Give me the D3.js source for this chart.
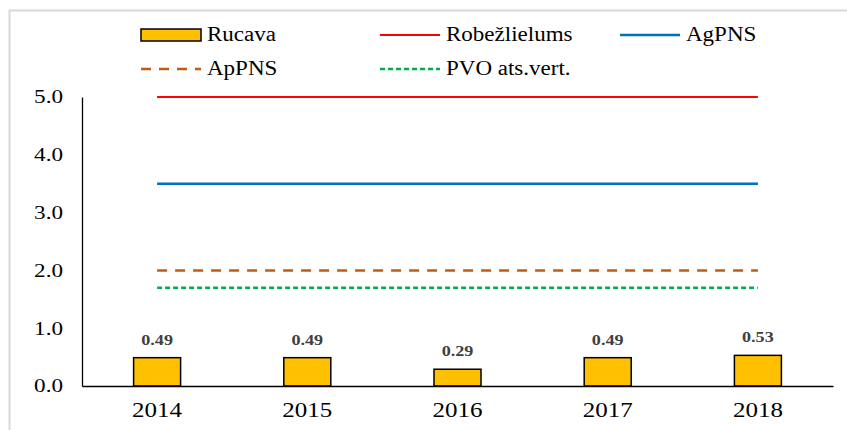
<!DOCTYPE html>
<html>
<head>
<meta charset="utf-8">
<script src="https://cdn.jsdelivr.net/npm/d3@7"></script>
<style>
  html, body { margin: 0; padding: 0; background: #fff; }
  svg { display: block; }
  svg text { font-family: "Liberation Serif", "Times New Roman", Times, serif; }
</style>
</head>
<body>
<svg id="chart" width="847" height="430"></svg>
<script>
// Yearly values for Rucava and the reference limit levels
const years = ["2014", "2015", "2016", "2017", "2018"];
const rucava = [0.49, 0.49, 0.29, 0.49, 0.53];
const robezlielums = [5.0, 5.0, 5.0, 5.0, 5.0];
const agpns = [3.5, 3.5, 3.5, 3.5, 3.5];
const appns = [2.0, 2.0, 2.0, 2.0, 2.0];
const pvo = [1.7, 1.7, 1.7, 1.7, 1.7];
const yTicks = [0, 1, 2, 3, 4, 5];

const svg = d3.select("#chart");

// stretch a label horizontally, keeping its anchor in place
function widen(sel, k) {
  sel.each(function () {
    const len = this.getComputedTextLength();
    d3.select(this)
      .attr("textLength", len * k)
      .attr("lengthAdjust", "spacingAndGlyphs");
  });
}

// outer frame
svg.append("rect")
  .attr("x", 9.5).attr("y", 10.5)
  .attr("width", 860).attr("height", 440)
  .attr("fill", "#fff")
  .attr("stroke", "#d9d9d9").attr("stroke-width", 2);

const plot = { left: 82, right: 833, top: 97, bottom: 386 };

const x = d3.scaleBand().domain(years).range([plot.left, plot.right]).paddingInner(0).paddingOuter(0);
const y = d3.scaleLinear().domain([0, 5]).range([plot.bottom, plot.top]);

const barW = 47;

// y axis with tick labels
const yAxis = d3.axisLeft(y).tickValues(yTicks).tickFormat(d3.format(".1f")).tickSize(0).tickPadding(19);
const gy = svg.append("g").attr("transform", `translate(${plot.left},0)`).call(yAxis);
gy.attr("font-family", null);
gy.select(".domain").attr("stroke", "#000").attr("stroke-width", 1.3);
gy.selectAll("text").attr("font-size", 18.5).attr("fill", "#000").call(widen, 1.25);

// bars
svg.append("g").selectAll("rect").data(rucava).join("rect")
  .attr("x", (d, i) => x(years[i]) + x.bandwidth() / 2 - barW / 2)
  .attr("y", d => y(d))
  .attr("width", barW)
  .attr("height", d => y(0) - y(d))
  .attr("fill", "#FFC000")
  .attr("stroke", "#000").attr("stroke-width", 1.5);

// value labels
svg.append("g").selectAll("text").data(rucava).join("text")
  .attr("x", (d, i) => x(years[i]) + x.bandwidth() / 2)
  .attr("y", d => y(d) - 13)
  .attr("text-anchor", "middle")
  .attr("font-size", 14.5).attr("font-weight", "bold")
  .attr("fill", "#404040")
  .text(d => d.toFixed(2))
  .call(widen, 1.25);

// x axis
const xAxis = d3.axisBottom(x).tickSize(0).tickPadding(16.5);
const gx = svg.append("g").attr("transform", `translate(0,${plot.bottom})`).call(xAxis);
gx.attr("font-family", null);
gx.select(".domain").attr("stroke", "#000").attr("stroke-width", 1.5);
gx.selectAll("text").attr("font-size", 20.5).attr("fill", "#000").call(widen, 1.22);

// limit lines
const series = [
  { name: "Robežlielums", values: robezlielums, color: "#FF0000", width: 2, dash: null },
  { name: "AgPNS", values: agpns, color: "#0070C0", width: 2.5, dash: null },
  { name: "ApPNS", values: appns, color: "#C55A11", width: 2.5, dash: "10,8" },
  { name: "PVO ats.vert.", values: pvo, color: "#00B050", width: 2.5, dash: "5,3" }
];
const line = d3.line()
  .x((d, i) => x(years[i]) + x.bandwidth() / 2)
  .y(d => y(d));
svg.append("g").selectAll("path").data(series).join("path")
  .attr("d", s => line(s.values))
  .attr("fill", "none")
  .attr("stroke", s => s.color)
  .attr("stroke-width", s => s.width)
  .attr("stroke-dasharray", s => s.dash);

// legend
const legend = svg.append("g");
const legendItems = [
  { type: "bar", name: "Rucava", x: 141, y: 35 },
  { type: "line", s: series[0], name: series[0].name, x: 380, y: 35 },
  { type: "line", s: series[1], name: series[1].name, x: 620, y: 35 },
  { type: "line", s: series[2], name: series[2].name, x: 141, y: 69 },
  { type: "line", s: series[3], name: series[3].name, x: 380, y: 69 }
];
legendItems.forEach(it => {
  if (it.type === "bar") {
    legend.append("rect")
      .attr("x", it.x).attr("y", it.y - 6)
      .attr("width", 60).attr("height", 12)
      .attr("fill", "#FFC000").attr("stroke", "#000").attr("stroke-width", 1.5);
  } else {
    legend.append("line")
      .attr("x1", it.x).attr("x2", it.x + 60)
      .attr("y1", it.y).attr("y2", it.y)
      .attr("stroke", it.s.color).attr("stroke-width", it.s.width)
      .attr("stroke-dasharray", it.s.dash);
  }
  legend.append("text")
    .attr("x", it.x + 66).attr("y", it.y + 6)
    .attr("font-size", 20).attr("fill", "#000")
    .text(it.name)
    .call(widen, 1.15);
});
</script>
</body>
</html>
